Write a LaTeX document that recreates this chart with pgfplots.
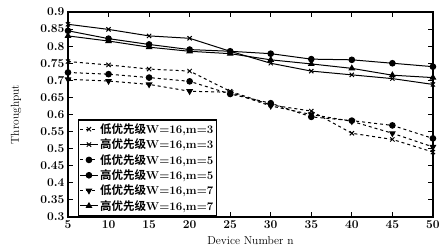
\documentclass[border=0pt]{standalone}
\usepackage{pgfplots}
\pgfplotsset{compat=1.18}
\usepackage{fontspec}
\newfontfamily\cjk{Noto Sans CJK SC}[BoldFont={* Bold}]
\begin{document}
\begin{tikzpicture}
\begin{axis}[
  name=ax,
  width=365pt, height=205pt, scale only axis,
  xmin=5, xmax=50, ymin=0.3, ymax=0.9,
  xtick={5,10,...,50},
  ytick={0.3,0.35,...,0.91},
  yticklabel style={/pgf/number format/fixed,/pgf/number format/precision=2},
  tick align=inside,
  tick style={black, line width=0.8pt},
  major tick length=5pt,
  axis line style={line width=1.2pt},
  xlabel={Device Number n},
  ylabel={Throughput},
  xlabel style={at={(rel axis cs:0.5,0)}, anchor=center, yshift=-24pt},
  ylabel style={at={(rel axis cs:0,0.5)}, anchor=center, yshift=52pt},
  label style={font=\fontsize{11.5}{13}\selectfont},
  tick label style={font=\fontsize{12}{14}\selectfont\boldmath},
  legend style={at={(0.027,0.006)}, anchor=south west, draw=black, line width=1.2pt, font=\fontsize{11.5}{13}\selectfont\bfseries, row sep=0pt, inner sep=1.5pt},
  legend cell align=left,
  every axis plot/.append style={black, line width=1pt},
]
\addplot[dashed, mark=x, mark size=3pt, mark options={solid}] coordinates {(5,0.755)(10,0.745)(15,0.733)(20,0.727)(25,0.668)(30,0.628)(35,0.61)(40,0.545)(45,0.527)(50,0.49)};
\addlegendentry{{\cjk\bfseries 低优先级}W=16,m=3}
\addplot[solid, mark=x, mark size=3pt] coordinates {(5,0.864)(10,0.849)(15,0.83)(20,0.823)(25,0.785)(30,0.75)(35,0.727)(40,0.716)(45,0.705)(50,0.688)};
\addlegendentry{{\cjk\bfseries 高优先级}W=16,m=3}
\addplot[dashed, mark=*, mark size=2.8pt, mark options={solid}] coordinates {(5,0.723)(10,0.718)(15,0.708)(20,0.697)(25,0.66)(30,0.633)(35,0.593)(40,0.582)(45,0.568)(50,0.53)};
\addlegendentry{{\cjk\bfseries 低优先级}W=16,m=5}
\addplot[solid, mark=*, mark size=2.8pt] coordinates {(5,0.845)(10,0.822)(15,0.805)(20,0.79)(25,0.785)(30,0.778)(35,0.762)(40,0.76)(45,0.75)(50,0.74)};
\addlegendentry{{\cjk\bfseries 高优先级}W=16,m=5}
\addplot[dashed, mark=triangle*, mark size=3pt, mark options={solid, rotate=180}] coordinates {(5,0.703)(10,0.698)(15,0.688)(20,0.668)(25,0.665)(30,0.625)(35,0.6)(40,0.58)(45,0.545)(50,0.505)};
\addlegendentry{{\cjk\bfseries 低优先级}W=16,m=7}
\addplot[solid, mark=triangle*, mark size=3pt] coordinates {(5,0.83)(10,0.815)(15,0.797)(20,0.785)(25,0.778)(30,0.76)(35,0.748)(40,0.735)(45,0.715)(50,0.708)};
\addlegendentry{{\cjk\bfseries 高优先级}W=16,m=7}
\end{axis}
\path (ax.north west) ++(0,12pt);
\path (ax.south east) ++(10pt,-30pt);
\path (ax.south west) ++(-68pt,0);
\end{tikzpicture}
\end{document}
